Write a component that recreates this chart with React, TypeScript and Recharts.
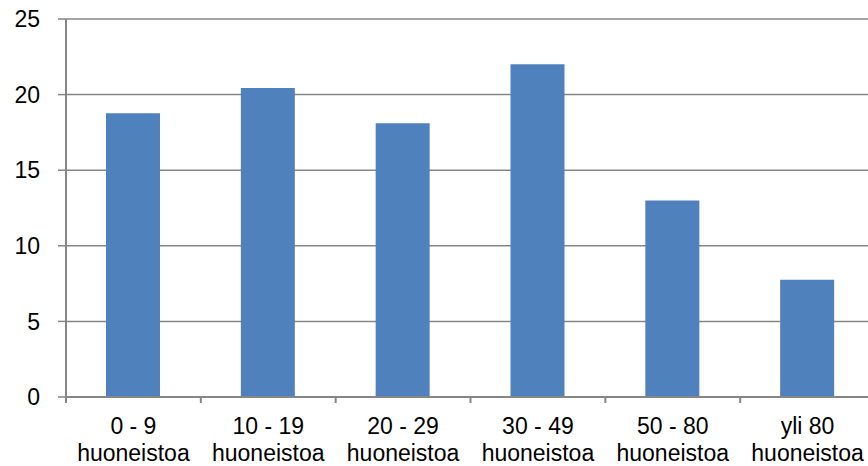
import React from 'react';
import { BarChart, Bar, XAxis, YAxis, CartesianGrid } from 'recharts';

const sizeGroups = ['0 - 9', '10 - 19', '20 - 29', '30 - 49', '50 - 80', 'yli 80'];
const shares = [18.76, 20.43, 18.1, 22.0, 13.0, 7.75];
const yTicks = [0, 5, 10, 15, 20, 25];
const unitLabel = 'huoneistoa';

const data = sizeGroups.map((name, i) => ({ name, value: shares[i] }));

const FONT = '"Liberation Sans", Arial, sans-serif';
const AXIS_GREY = '#868686';
const TICK_SIZE = 6;
const TICK_MARGIN = 2;

// category label in two rows + tick marks on the category boundaries
const CategoryTick = (props: any) => {
  const { x, y, payload, index } = props;
  const half = payload.offset || 0;
  const isLast = index === sizeGroups.length - 1;
  const axisY = y - TICK_SIZE - TICK_MARGIN;
  return (
    <g>
      <line x1={x - half} x2={x - half} y1={axisY} y2={axisY + TICK_SIZE} stroke={AXIS_GREY} strokeWidth={2} />
      {isLast && (
        <line x1={x + half} x2={x + half} y1={axisY} y2={axisY + TICK_SIZE} stroke={AXIS_GREY} strokeWidth={2} />
      )}
      <text x={x} y={y} textAnchor="middle" fill="#000" fontSize={23} fontFamily={FONT}>
        <tspan x={x} dy={29}>{payload.value}</tspan>
        <tspan x={x} dy={27}>{unitLabel}</tspan>
      </text>
    </g>
  );
};

export default function App() {
  return (
    <div style={{ width: 868, height: 466, overflow: 'hidden', position: 'absolute', left: 0, top: 0, background: '#fff' }}>
      <BarChart
        width={880}
        height={466}
        data={data}
        margin={{ top: 19, right: 5, left: 0, bottom: 0 }}
      >
        <CartesianGrid vertical={false} stroke={AXIS_GREY} strokeWidth={1.5} />
        <XAxis
          dataKey="name"
          height={69}
          interval={0}
          tickSize={TICK_SIZE}
          tickMargin={TICK_MARGIN}
          tickLine={false}
          axisLine={{ stroke: AXIS_GREY, strokeWidth: 2 }}
          tick={<CategoryTick />}
        />
        <YAxis
          width={66}
          domain={[0, 25]}
          ticks={yTicks}
          interval={0}
          tickSize={8}
          tickMargin={18}
          axisLine={{ stroke: AXIS_GREY, strokeWidth: 2 }}
          tickLine={{ stroke: AXIS_GREY, strokeWidth: 1.5 }}
          tick={{ fill: '#000', fontSize: 23, fontFamily: FONT }}
        />
        <Bar dataKey="value" fill="#4F81BD" barSize={54} isAnimationActive={false} />
      </BarChart>
    </div>
  );
}
